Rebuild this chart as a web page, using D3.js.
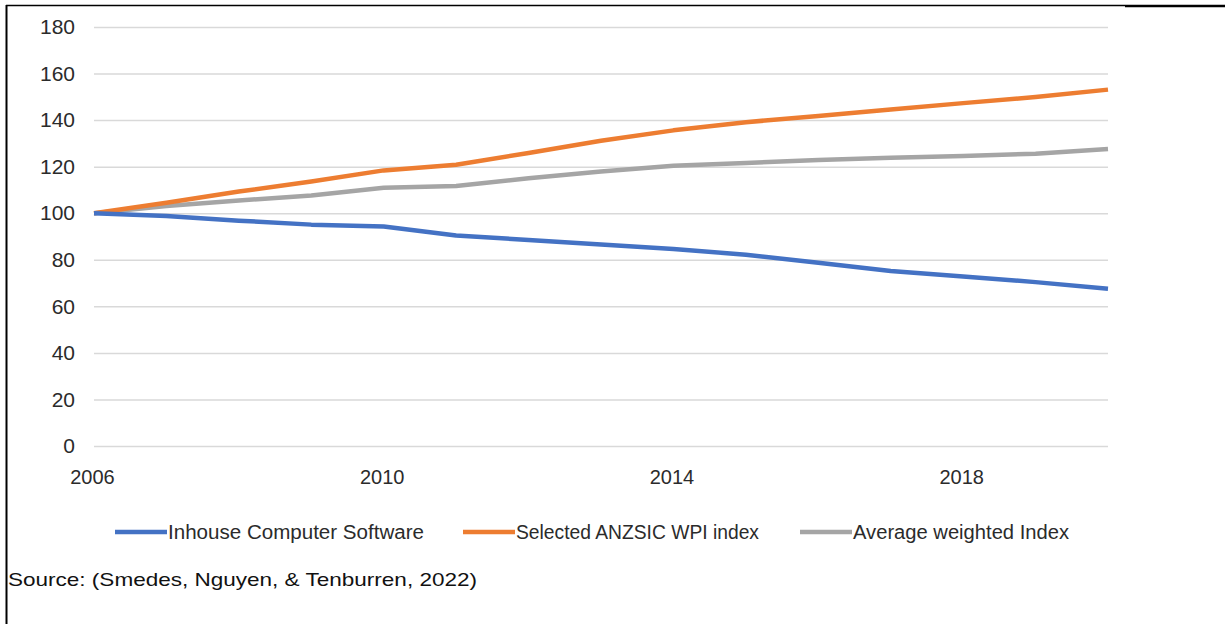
<!DOCTYPE html>
<html>
<head>
<meta charset="utf-8">
<script src="https://cdn.jsdelivr.net/npm/d3@7"></script>
<style>
  html, body { margin: 0; padding: 0; background: #fff; }
  svg { display: block; }
</style>
</head>
<body>
<svg id="chart" width="1225" height="624"></svg>
<script>
const years = [2006, 2007, 2008, 2009, 2010, 2011, 2012, 2013, 2014, 2015, 2016, 2017, 2018, 2019, 2020];
const inhouseSoftware = [100, 98.8, 96.8, 95.1, 94.3, 90.4, 88.5, 86.6, 84.6, 82.2, 78.7, 75.2, 72.8, 70.4, 67.6];
const anzsicWpi = [100, 104.5, 109.3, 113.6, 118.4, 120.8, 125.9, 131.1, 135.6, 139.1, 141.8, 144.6, 147.3, 149.9, 153.1];
const averageWeighted = [100, 103.1, 105.5, 107.6, 110.9, 111.7, 115.0, 117.9, 120.4, 121.6, 122.9, 123.8, 124.6, 125.6, 127.6];
const yTicks = [0, 20, 40, 60, 80, 100, 120, 140, 160, 180];
const xTickYears = [2006, 2010, 2014, 2018];
const seriesNames = ["Inhouse Computer Software", "Selected ANZSIC WPI index", "Average weighted Index"];
const sourceText = "Source: (Smedes, Nguyen, & Tenburren, 2022)";

const colors = ["#4472C4", "#ED7D31", "#A5A5A5"];
const seriesValues = [inhouseSoftware, anzsicWpi, averageWeighted];

const svg = d3.select("#chart");

const x = d3.scaleLinear().domain([2006, 2020]).range([94, 1108]);
const y = d3.scaleLinear().domain([0, 180]).range([446, 27]);

// frame
svg.append("line").attr("x1", 6).attr("x2", 1125).attr("y1", 5.5).attr("y2", 5.5)
  .attr("stroke", "#000").attr("stroke-width", 1.6);
svg.append("line").attr("x1", 1125).attr("x2", 1225).attr("y1", 6).attr("y2", 6)
  .attr("stroke", "#000").attr("stroke-width", 2.6);
svg.append("line").attr("x1", 6.5).attr("x2", 6.5).attr("y1", 5).attr("y2", 624)
  .attr("stroke", "#000").attr("stroke-width", 2);

// y grid + labels via axis
const yAxis = d3.axisLeft(y).tickValues(yTicks).tickSize(-(1108 - 94)).tickPadding(18).tickFormat(d3.format("d"));
const yg = svg.append("g").attr("transform", "translate(94,0)").call(yAxis);
yg.select(".domain").remove();
yg.selectAll(".tick line").attr("stroke", "#d9d9d9").attr("stroke-width", 1.5);
yg.selectAll(".tick text")
  .attr("fill", "#2b2b2b")
  .style("font-family", "'Liberation Sans', Arial, sans-serif")
  .style("font-size", "21px")
  .attr("x", -19);

// x labels via axis
const xAxis = d3.axisBottom(x).tickValues(xTickYears).tickSize(0).tickPadding(24).tickFormat(d3.format("d"));
const xg = svg.append("g").attr("transform", "translate(-2,446)").call(xAxis);
xg.select(".domain").remove();
xg.selectAll(".tick text")
  .attr("fill", "#2b2b2b")
  .style("font-family", "'Liberation Sans', Arial, sans-serif")
  .style("font-size", "20px");

// lines
const line = d3.line().x((d, i) => x(years[i])).y(d => y(d));
[2, 1, 0].forEach(k => {
  svg.append("path")
    .datum(seriesValues[k])
    .attr("fill", "none")
    .attr("stroke", colors[k])
    .attr("stroke-width", 4.5)
    .attr("stroke-linejoin", "round")
    .attr("d", line);
});

// legend
const legendX = [115, 463, 800];
const legendTextW = [256, 243, 216];
const legendY = 532;
const lg = svg.append("g");
seriesNames.forEach((name, i) => {
  lg.append("line")
    .attr("x1", legendX[i]).attr("x2", legendX[i] + 52)
    .attr("y1", legendY).attr("y2", legendY)
    .attr("stroke", colors[i]).attr("stroke-width", 4.5);
  lg.append("text")
    .attr("x", legendX[i] + 53)
    .attr("y", legendY + 7)
    .attr("fill", "#2b2b2b")
    .attr("textLength", legendTextW[i])
    .attr("lengthAdjust", "spacingAndGlyphs")
    .style("font-family", "'Liberation Sans', Arial, sans-serif")
    .style("font-size", "20px")
    .text(name);
});

// source
svg.append("text")
  .attr("x", 8).attr("y", 586)
  .attr("fill", "#111")
  .attr("textLength", 469)
  .attr("lengthAdjust", "spacingAndGlyphs")
  .style("font-family", "'Liberation Sans', Arial, sans-serif")
  .style("font-size", "19px")
  .text(sourceText);
</script>
</body>
</html>
